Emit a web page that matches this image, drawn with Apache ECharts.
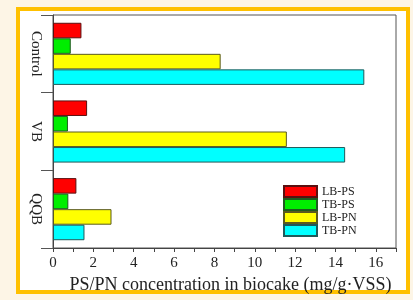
<!DOCTYPE html>
<html>
<head>
<meta charset="utf-8">
<script src="https://cdn.jsdelivr.net/npm/echarts@6/dist/echarts.min.js"></script>
<style>html,body{margin:0;padding:0;background:#fdf5e6;}#c{width:413px;height:300px;}</style>
</head>
<body>
<div id="c"></div>
<script>
var categories = ['Control', 'VB', 'QQB'];
var seriesNames = ['LB-PS', 'TB-PS', 'LB-PN', 'TB-PN'];
var lbPS = [1.41, 1.69, 1.16];
var tbPS = [0.88, 0.74, 0.76];
var lbPN = [8.31, 11.59, 2.90];
var tbPN = [15.43, 14.48, 1.56];
var xTitle = 'PS/PN concentration in biocake (mg/g·VSS)';

var serif = '"Liberation Serif","Times New Roman",serif';
var colors = ['#ff0000', '#00ee00', '#ffff00', '#00ffff'];
var borders = ['#5a1010', '#1f5a1f', '#5a5a1f', '#1f5a5a'];
var values = [lbPS, tbPS, lbPN, tbPN];

var chart = echarts.init(document.getElementById('c'), null, {renderer: 'canvas'});
chart.setOption({
  backgroundColor: '#fdf5e6',
  animation: false,
  graphic: [{
    type: 'rect', z: -10,
    shape: {x: 18, y: 9, width: 390, height: 283},
    style: {fill: '#ffffff', stroke: '#ffc000', lineWidth: 4}
  }],
  grid: {left: 53, top: 15, right: 17, bottom: 52, show: true, borderColor: '#555', borderWidth: 1, backgroundColor: 'transparent'},
  legend: {
    orient: 'vertical', left: 283, top: 185, padding: 0,
    icon: 'rect',
    itemWidth: 33, itemHeight: 11, itemGap: 0,
    textStyle: {fontFamily: serif, fontSize: 12, lineHeight: 11, color: '#222'},
    data: seriesNames
  },
  xAxis: {
    type: 'value', min: 0, max: 17, interval: 1,
    axisLine: {show: true, lineStyle: {color: '#444'}},
    axisTick: {show: true, length: 4, lineStyle: {color: '#444'}},
    splitLine: {show: false},
    axisLabel: {
      fontFamily: serif, fontSize: 15, color: '#222', margin: 8,
      formatter: function (v) { return (v % 2 === 0 && v <= 16) ? String(v) : ''; }
    },
    name: xTitle, nameLocation: 'middle', nameGap: 26,
    nameTextStyle: {fontFamily: serif, fontSize: 18, color: '#222', padding: [0, 0, 0, 12]}
  },
  yAxis: {
    type: 'category', data: categories, inverse: true,
    axisLine: {show: true, lineStyle: {color: '#444'}},
    axisTick: {show: true, length: 12, lineStyle: {color: '#555'}},
    axisLabel: {rotate: -90, fontFamily: serif, fontSize: 15, color: '#222', margin: 10}
  },
  series: seriesNames.map(function (n, i) {
    return {
      name: n, type: 'bar', data: values[i],
      barGap: '0%', barCategoryGap: '20%',
      itemStyle: {color: colors[i], borderColor: borders[i], borderWidth: 1}
    };
  })
});
</script>
</body>
</html>
